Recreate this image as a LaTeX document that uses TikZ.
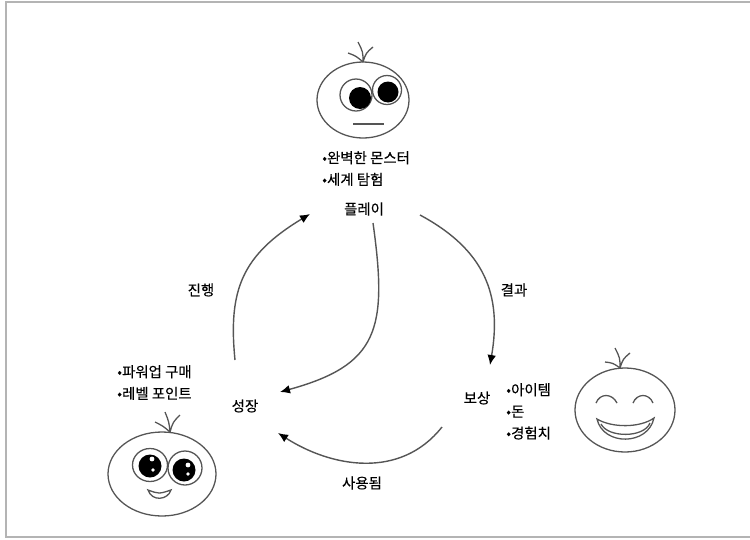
\documentclass[tikz,border=0pt]{standalone}
\usepackage{fontspec}
\setmainfont{Noto Sans CJK KR}[FakeBold=0.25]
\usepackage{tikz}
\usetikzlibrary{arrows.meta}
\definecolor{ink}{HTML}{555555}
\definecolor{rim}{HTML}{B4B4B4}

\tikzset{
  face/.style={draw=ink, line width=1.1pt},
  flow/.style={draw=ink, line width=1.2pt, -{Latex[length=3mm,width=2.6mm,color=black]}},
  lbl/.style={font=\fontsize{12.3}{18.5}\selectfont, inner sep=0pt},
  lst/.style={lbl, align=left, anchor=north west},
}

\begin{document}
\begin{tikzpicture}[x=0.3mm, y=-0.3mm]
  \useasboundingbox (0,0) rectangle (750,539);
  \draw[rim, line width=1.2pt] (6,2) rectangle (770,537);

  % the three stages of the loop
  \node[lbl] (play)   at (364,209) {플레이};
  \node[lbl] (grow)   at (245,406) {성장};
  \node[lbl] (reward) at (477,398) {보상};

  \node[lst] (playlist)   at (322,151) {•완벽한 몬스터\\•세계 탐험};
  \node[lst] (growlist)   at (117,365) {•파워업 구매\\•레벨 포인트};
  \node[lst] (rewardlist) at (506,383) {•아이템\\•돈\\•경험치};

  % arrows between stages
  \draw[flow] ([shift={(-10,-46)}]grow.center)
    .. controls +(-7,-70) and +(-68,41) .. ([shift={(-54,5)}]play.center);
  \draw[flow] ([shift={(9,14)}]play.center)
    .. controls +(15,107) and +(98,-27) .. ([shift={(35,-14)}]grow.center);
  \draw[flow] ([shift={(56,6)}]play.center)
    .. controls +(65,35) and +(12,-70) .. ([shift={(13,-33)}]reward.center);
  \draw[flow] ([shift={(-35,29)}]reward.center)
    .. controls +(-42,53) and +(53,34) .. ([shift={(33,27)}]grow.center);
  \node[lbl] (advance) at (201,290) {진행};
  \node[lbl] (result)  at (514,290) {결과};
  \node[lbl] (spent)   at (362,483) {사용됨};

  % face above the play stage
  \draw[face] (363,100) ellipse [x radius=46, y radius=38];
  \draw[face] (363,62) .. controls (363,52) .. (358,42)
              (363,62) .. controls (366,53) .. (373,47)
              (363,62) .. controls (356,56) .. (348,53);
  \draw[face] (356,95) circle [radius=16];
  \draw[face] (387,90) circle [radius=14.5];
  \fill (360,98) circle [radius=11];
  \fill (388,92) circle [radius=10.5];
  \draw[face] (353,124) -- (384,124);

  % face beside the growth stage
  \draw[face] (162,474) ellipse [x radius=54, y radius=42];
  \draw[face] (170,432) .. controls (169,422) .. (165,412)
              (170,432) .. controls (173,422) .. (180,415)
              (170,432) .. controls (163,426) .. (155,422);
  \draw[face] (150,465) ellipse [x radius=17.5, y radius=16.5];
  \draw[face] (185,468) ellipse [x radius=17, y radius=17];
  \fill (150,466) circle [radius=11.5];
  \fill (184,470) circle [radius=11.5];
  \fill[white] (152,459) circle [radius=2.4] (153,470) circle [radius=1.8]
               (188,465) circle [radius=2.4] (188,474) circle [radius=1.8];
  \draw[face] (148,490) .. controls (159,494) .. (171,490)
              .. controls (168,500) and (152,502) .. cycle;

  % face beside the reward stage
  \draw[face] (625,410) ellipse [x radius=50, y radius=42];
  \draw[face] (620,368) .. controls (620,358) .. (615,348)
              (620,368) .. controls (623,359) .. (630,353)
              (620,368) .. controls (613,363) .. (605,362);
  \draw[face] (596,403) .. controls (600,393) and (612,393) .. (617,403);
  \draw[face] (633,403) .. controls (637,393) and (649,393) .. (653,403);
  \draw[face] (597,419) .. controls (612,428) and (640,428) .. (654,418)
              .. controls (648,446) and (603,446) .. cycle;
  \draw[face] (601,424) .. controls (608,438) and (644,438) .. (650,423);
\end{tikzpicture}
\end{document}
